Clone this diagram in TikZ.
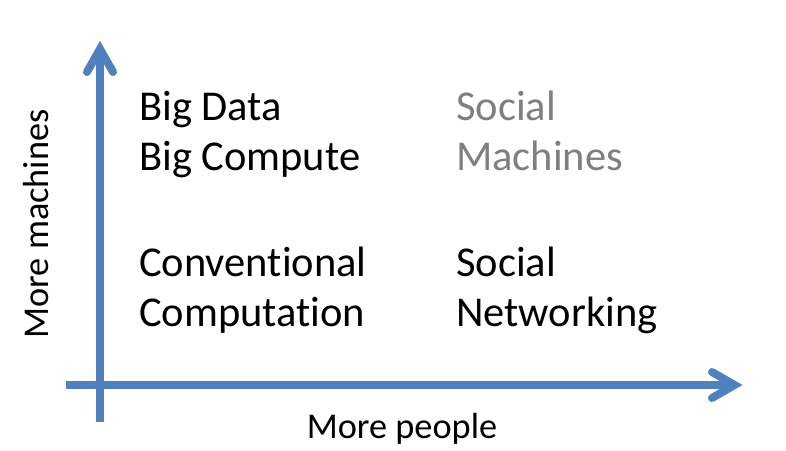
\documentclass[tikz,border=0pt]{standalone}
\usepackage{fontspec}
\setmainfont{Carlito}[Ligatures={NoCommon,NoRare,NoContextual}]
\definecolor{axisblue}{HTML}{4F81BD}
\definecolor{softgray}{HTML}{7F7F7F}
\begin{document}
\begin{tikzpicture}[x=1pt,y=-1pt,
  axis/.style={draw=axisblue,line width=8pt},
  barb/.style={draw=axisblue,line width=8pt,line cap=round,line join=miter},
  lbl/.style={anchor=base west,inner sep=0pt,font=\fontsize{42.5}{50}\selectfont},
  axlbl/.style={anchor=base,inner sep=0pt,font=\fontsize{36.3}{40}\selectfont}]
\useasboundingbox (0,0) rectangle (786,450);
\fill[white] (0,0) rectangle (786,450);
% axes
\coordinate (vbot) at (100,422);
\coordinate (vtip) at (100,49);
\coordinate (vl) at (87,72);
\coordinate (vr) at (113,72);
\coordinate (hleft) at (66,385);
\coordinate (htip) at (734.5,385);
\coordinate (hu) at (712,372);
\coordinate (hd) at (712,398);
\draw[axis] (vbot) -- (vtip);
\draw[barb] (vl) -- (vtip) -- (vr);
\draw[axis] (hleft) -- (htip);
\draw[barb] (hu) -- (htip) -- (hd);
% labels
\node[lbl] (bd) at (139,120) {Big Data};
\node[lbl] (bc) at (139,170) {Big Compute};
\node[lbl,text=softgray] (sm1) at (456,120) {Social};
\node[lbl,text=softgray] (sm2) at (456,170) {Machines};
\node[lbl] (cc1) at (139,276) {Conventional};
\node[lbl] (cc2) at (139,326) {Computation};
\node[lbl] (sn1) at (456,276) {Social};
\node[lbl] (sn2) at (456,326) {Networking};
\node[axlbl] (mp) at (402,438) {More people};
\node[axlbl,rotate=90] (mm) at (48,224) {More machines};
\end{tikzpicture}
\end{document}
